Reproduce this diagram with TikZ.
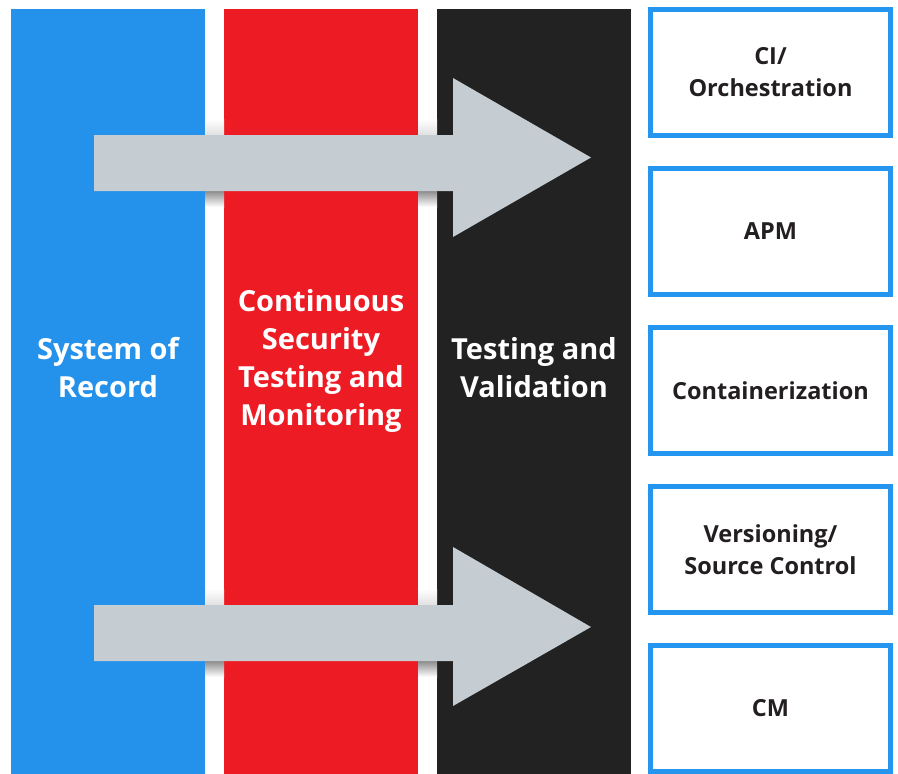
\documentclass[tikz,border=0pt]{standalone}
\usepackage{fontspec}
\setmainfont{Open Sans}
\usetikzlibrary{positioning}

\definecolor{sorblue}{RGB}{36,145,235}
\definecolor{secred}{RGB}{237,28,36}
\definecolor{testblack}{RGB}{33,34,33}
\definecolor{arrowgrey}{RGB}{197,205,211}
\definecolor{boxblue}{RGB}{36,150,240}
\definecolor{boxtext}{RGB}{35,31,32}

\tikzset{
  column/.style={rectangle, inner sep=0pt, minimum width=194pt, minimum height=765pt},
  collabel/.style={text=white, align=center, font=\bfseries\fontsize{29}{38}\selectfont},
  toolbox/.style={rectangle, draw=boxblue, fill=white, line width=5pt, minimum width=240pt,
                  minimum height=126pt, text=boxtext, align=center,
                  font=\bfseries\fontsize{23.5}{32}\selectfont},
  gapshade/.style={top color=#1, bottom color=white}
}

\begin{document}
\begin{tikzpicture}[x=1pt,y=-1pt]

\useasboundingbox [fill=white] (0,0) rectangle (898,774);

\node (sor)  [column, fill=sorblue,   anchor=north west] at (11,9)  {};
\node (sec)  [column, fill=secred,    anchor=north west] at (224,9) {};
\node (test) [column, fill=testblack, anchor=north west] at (437,9) {};

\node (sorlbl)  [collabel] at (108,368) {System of\\Record};
\node (seclbl)  [collabel] at (321,361) {Continuous\\Security\\Testing and\\Monitoring};
\node (testlbl) [collabel] at (534,368) {Testing and\\Validation};

% shadows in the gaps
\foreach \y in {191,661} {
  \shade [gapshade=black!45] (205,\y) rectangle (224,\y+16);
  \shade [gapshade=black!45] (418,\y) rectangle (437,\y+16);
  \shade [top color=white, bottom color=black!12] (205,\y-72) rectangle (224,\y-56);
  \shade [top color=white, bottom color=black!12] (418,\y-72) rectangle (437,\y-56);
}

\fill [arrowgrey] (94,135) -- ++(359,0) -- ++(0,-57) -- (591,157.5)
                  -- (453,237) -- ++(0,-46) -- (94,191) -- cycle;

\fill [arrowgrey] (94,605) -- ++(359,0) -- ++(0,-58) -- (591,627)
                  -- (453,706) -- ++(0,-45) -- (94,661) -- cycle;

\node (ci)   [toolbox] at (770.5,72.5)  {CI/\\Orchestration};
\node (apm)  [toolbox] at (770.5,231.5) {APM};
\node (cont) [toolbox] at (770.5,390.5) {Containerization};
\node (ver)  [toolbox] at (770.5,549.5) {Versioning/\\Source Control};
\node (cm)   [toolbox] at (770.5,708.5) {CM};

\end{tikzpicture}
\end{document}
